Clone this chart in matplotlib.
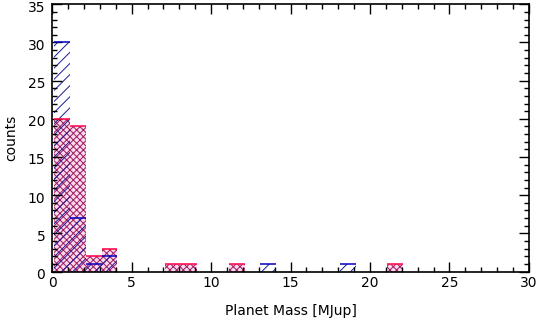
import numpy as np
import matplotlib
matplotlib.use("Agg")
import matplotlib.pyplot as plt
from matplotlib.ticker import MultipleLocator
from matplotlib.transforms import ScaledTranslation

# bin edges in MJup (width 1, starting just above 0)
bin_edges = np.arange(0.1, 31.1, 1.0)

# counts per bin (bins not listed are zero)
blue_bins = [0, 1, 2, 3, 13, 18]
blue_counts = [30, 7, 1, 2, 1, 1]
red_bins = [0, 1, 2, 3, 7, 8, 11, 21]
red_counts = [20, 19, 2, 3, 1, 1, 1, 1]

blue_hist = np.zeros(len(bin_edges) - 1)
blue_hist[blue_bins] = blue_counts
red_hist = np.zeros(len(bin_edges) - 1)
red_hist[red_bins] = red_counts

plt.rcParams['hatch.linewidth'] = 0.7

fig = plt.figure(figsize=(5.43, 3.24), dpi=100)
ax = fig.add_axes([0.0963, 0.162, 0.8777, 0.8247])

# red sample: pink dotted fill
ax.stairs(red_hist, bin_edges, fill=True, facecolor='#fcd8ec', edgecolor='#9a1a5e',
          hatch='xxxxx', linewidth=0)
# blue sample: diagonal hatch
ax.stairs(blue_hist, bin_edges, fill=True, facecolor='none', edgecolor='#1a1a9a',
          hatch='///', linewidth=0)

# top edges of the bars
left, right = bin_edges[:-1], bin_edges[1:]
r = red_hist > 0
b = blue_hist > 0
ax.hlines(red_hist[r], left[r], right[r], color='#ff1050', linewidth=1.2)
ax.hlines(blue_hist[b], left[b], right[b], color='#0000c0', linewidth=1.1)

ax.set_xlim(0, 30)
ax.set_ylim(0, 35)
ax.xaxis.set_major_locator(MultipleLocator(5))
ax.xaxis.set_minor_locator(MultipleLocator(1))
ax.yaxis.set_major_locator(MultipleLocator(5))
ax.yaxis.set_minor_locator(MultipleLocator(1))
ax.tick_params(which='both', direction='in', top=True, right=True, width=1,
               labelsize=10, color='black')
ax.tick_params(which='major', length=7)
ax.tick_params(which='minor', length=3.5)
ax.tick_params(axis='y', pad=5)
for s in ax.spines.values():
    s.set_linewidth(1.2)

# nudge y tick labels down a bit, like the original
shift = ScaledTranslation(0, -2 / 100, fig.dpi_scale_trans)
for lbl in ax.get_yticklabels():
    lbl.set_transform(lbl.get_transform() + shift)

ax.set_xlabel("Planet Mass [MJup]", fontsize=10, labelpad=10)
ax.set_ylabel("counts", fontsize=10, labelpad=7)

fig.savefig("out.png", dpi=100)
